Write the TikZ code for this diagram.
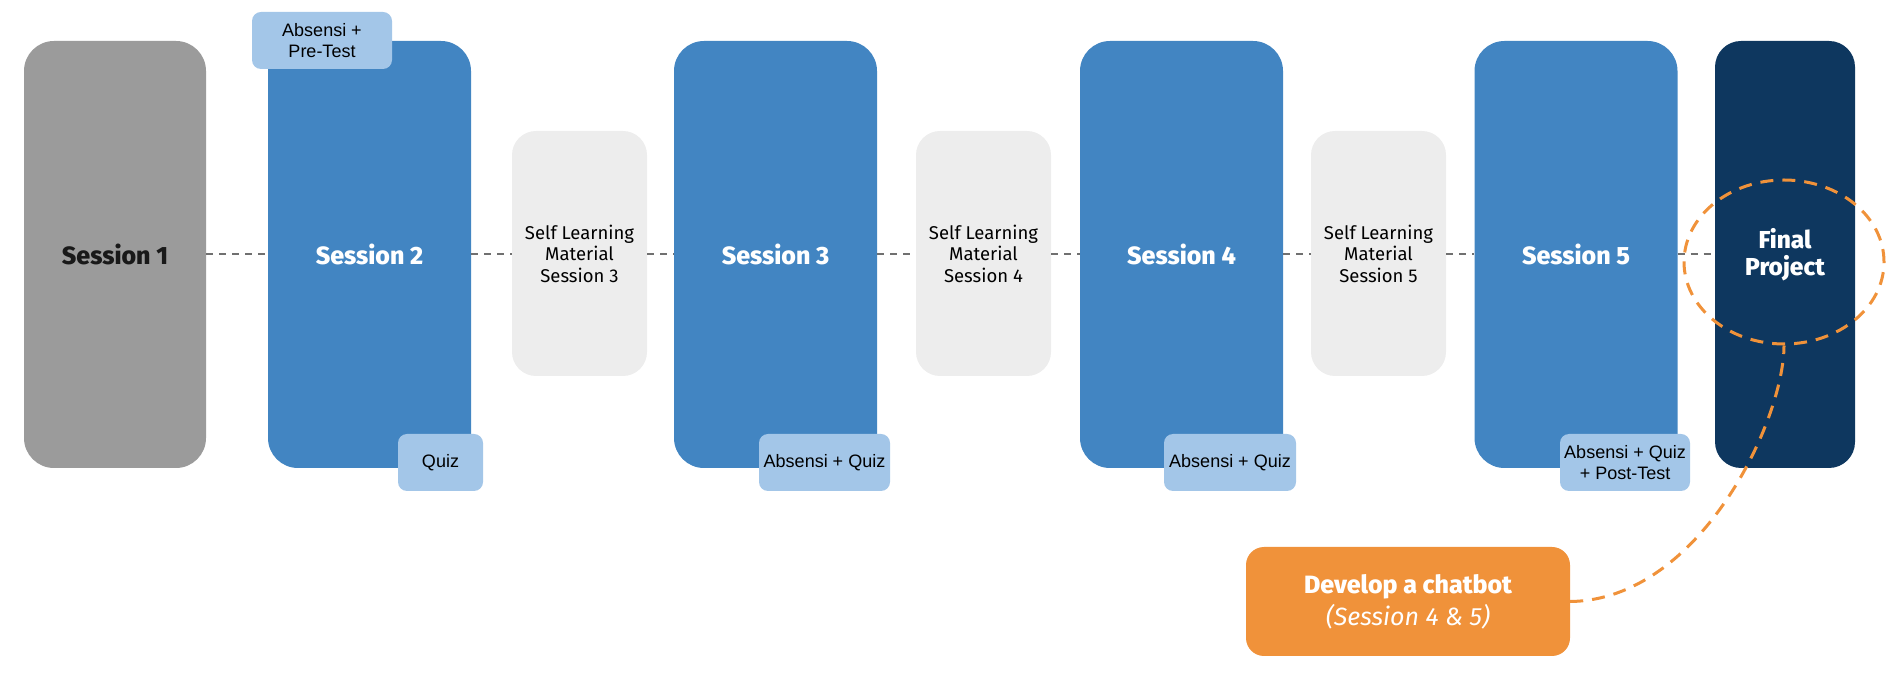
\documentclass[tikz,border=0pt]{standalone}
\usepackage{fontspec}
\setmainfont{Fira Sans}
\newfontfamily\labelfont{Liberation Sans}
\newfontfamily\heavyfont{Fira Sans ExtraBold}
\usetikzlibrary{shapes.geometric}
\definecolor{sgray}{HTML}{9B9B9B}
\definecolor{sblue}{HTML}{4285C2}
\definecolor{lblue}{HTML}{A3C6E8}
\definecolor{slgray}{HTML}{EDEDED}
\definecolor{navy}{HTML}{0E375F}
\definecolor{orng}{HTML}{F0923A}
\definecolor{dline}{HTML}{707070}
\tikzset{
  sessbox/.style={rectangle, rounded corners=30pt, inner sep=0pt, minimum width=203pt, minimum height=427pt, fill=sblue, text=white, font=\heavyfont\fontsize{25}{30}\selectfont},
  slmbox/.style={rectangle, rounded corners=24pt, inner sep=0pt, minimum width=135pt, minimum height=245pt, fill=slgray, text=black, align=center, font=\fontsize{18.5}{21.5}\selectfont},
  tagbox/.style={rectangle, rounded corners=9pt, inner sep=0pt, minimum height=57pt, fill=lblue, text=black, align=center, font=\labelfont\fontsize{18}{21.5}\selectfont},
  timeline/.style={draw=dline, line width=2pt, dash pattern=on 7pt off 6pt},
  orangedash/.style={draw=orng, line width=3pt, dash pattern=on 13pt off 9pt}
}
\begin{document}
\begin{tikzpicture}[x=1pt,y=1pt]
\useasboundingbox (0,0) rectangle (1892,674);
% session boxes
\node[sessbox, fill=sgray, text=black!90, minimum width=182pt] (s1) at (115,419.5) {Session 1};
\node[sessbox] (s2) at (369.5,419.5) {Session 2};
\node[slmbox] (l3) at (579.5,420.5) {Self Learning\\Material\\Session 3};
\node[sessbox] (s3) at (775.5,419.5) {Session 3};
\node[slmbox] (l4) at (983.5,420.5) {Self Learning\\Material\\Session 4};
\node[sessbox] (s4) at (1181.5,419.5) {Session 4};
\node[slmbox] (l5) at (1378.5,420.5) {Self Learning\\Material\\Session 5};
\node[sessbox] (s5) at (1576,419.5) {Session 5};
\node[sessbox, fill=navy, rounded corners=26pt, minimum width=140pt, align=center, font=\heavyfont\fontsize{24.5}{27}\selectfont] (fp) at (1785,419.5) {Final\\Project};
% timeline
\draw[timeline] (s1.east |- 0,420) -- (s2.west |- 0,420);
\draw[timeline] (s2.east |- 0,420) -- (l3.west |- 0,420);
\draw[timeline] (l3.east |- 0,420) -- (s3.west |- 0,420);
\draw[timeline] (s3.east |- 0,420) -- (l4.west |- 0,420);
\draw[timeline] (l4.east |- 0,420) -- (s4.west |- 0,420);
\draw[timeline] (s4.east |- 0,420) -- (l5.west |- 0,420);
\draw[timeline] (l5.east |- 0,420) -- (s5.west |- 0,420);
\draw[timeline] (s5.east |- 0,420) -- (fp.west |- 0,420);
% tags
\node[tagbox, minimum width=140pt] (t2a) at (322,633.5) {Absensi +\\Pre-Test};
\node[tagbox, minimum width=85pt] (t2b) at (440.5,211.5) {Quiz};
\node[tagbox, minimum width=131pt] (t3) at (824.5,211.5) {Absensi + Quiz};
\node[tagbox, minimum width=132pt] (t4) at (1230,211.5) {Absensi + Quiz};
\node[tagbox, minimum width=130pt] (t5) at (1625,211.5) {Absensi + Quiz\\+ Post-Test};
% final project highlight
\node[ellipse, orangedash, minimum width=200pt, minimum height=164pt, inner sep=0pt] (ell) at (1784,412) {};
% chatbot
\node[rectangle, rounded corners=18pt, inner sep=0pt, minimum width=324pt, minimum height=109pt, fill=orng, text=white, align=center, font=\fontsize{25}{32}\selectfont] (cb) at (1408,72.5) {{\heavyfont Develop a chatbot}\\\itshape (Session 4 \& 5)};
\draw[orangedash] (cb.east) .. controls (1700,74) and (1784,254) .. (ell.south);
\end{tikzpicture}
\end{document}
